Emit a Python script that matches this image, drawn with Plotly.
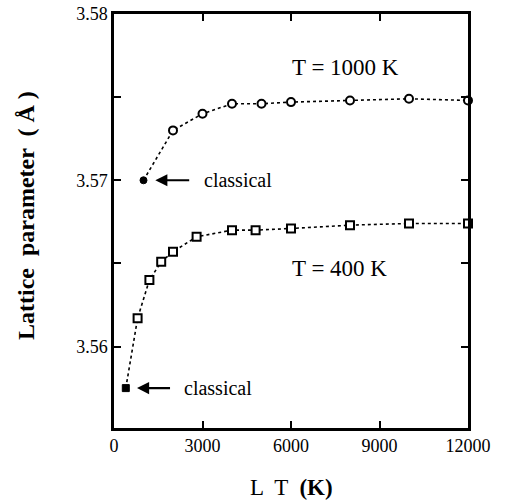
import plotly.graph_objects as go

# Lattice parameter vs. L*T for two temperatures (PIMD convergence)
lt_1000 = [1000, 2000, 3000, 4000, 5000, 6000, 8000, 10000, 12000]
a_1000 = [3.5700, 3.5730, 3.5740, 3.5746, 3.5746, 3.5747, 3.5748, 3.5749, 3.5748]

lt_400 = [400, 800, 1200, 1600, 2000, 2800, 4000, 4800, 6000, 8000, 10000, 12000]
a_400 = [3.5575, 3.5617, 3.5640, 3.5651, 3.5657, 3.5666, 3.5670, 3.5670, 3.5671,
         3.5673, 3.5674, 3.5674]

x_ticks = [0, 3000, 6000, 9000, 12000]
x_tick_text = ["0", "3000", "6000", "9000", "12000"]
y_ticks = [3.555, 3.56, 3.565, 3.57, 3.575, 3.58]
y_tick_text = ["", "3.56", "", "3.57", "", "3.58"]

FONT = "Liberation Serif"

fig = go.Figure()


def add_series(xs, ys, symbol):
    # dotted connecting line with open markers, first (classical) point filled
    fig.add_trace(go.Scatter(
        x=xs, y=ys, mode="lines",
        line=dict(color="black", width=1.6, dash="dot"),
        showlegend=False, hoverinfo="skip"))
    fig.add_trace(go.Scatter(
        x=xs[1:], y=ys[1:], mode="markers",
        marker=dict(symbol=symbol, size=8, color="white",
                    line=dict(color="black", width=2)),
        showlegend=False, cliponaxis=False))
    fig.add_trace(go.Scatter(
        x=xs[:1], y=ys[:1], mode="markers",
        marker=dict(symbol=symbol, size=7, color="black",
                    line=dict(color="black", width=1)),
        showlegend=False, cliponaxis=False))


add_series(lt_1000, a_1000, "circle")
add_series(lt_400, a_400, "square")

annotations = [
    dict(x=7850, y=3.5768, text="T = 1000 K", showarrow=False,
         font=dict(size=23, family=FONT, color="black")),
    dict(x=7650, y=3.5647, text="T = 400 K", showarrow=False,
         font=dict(size=23, family=FONT, color="black")),
    # arrows pointing at the classical points
    dict(x=1400, y=a_1000[0], ax=2600, ay=a_1000[0],
         axref="x", ayref="y", text="", showarrow=True,
         arrowhead=2, arrowsize=1.1, arrowwidth=2.2, arrowcolor="black"),
    dict(x=2980, y=a_1000[0], text="classical", showarrow=False,
         xanchor="left", font=dict(size=20, family=FONT, color="black")),
    dict(x=780, y=a_400[0], ax=1950, ay=a_400[0],
         axref="x", ayref="y", text="", showarrow=True,
         arrowhead=2, arrowsize=1.1, arrowwidth=2.2, arrowcolor="black"),
    dict(x=2300, y=a_400[0], text="classical", showarrow=False,
         xanchor="left", font=dict(size=20, family=FONT, color="black")),
    # axis titles
    dict(x=0.5, y=0, xref="paper", yref="paper", yanchor="middle",
         yshift=-59, text="L  T  <b>(K)</b>", showarrow=False,
         font=dict(size=23, family=FONT, color="black")),
    dict(x=0, y=0.5, xref="paper", yref="paper", xanchor="center",
         yanchor="middle", xshift=-88, yshift=5, textangle=-90,
         text="<b>Lattice  parameter  ( Å )</b>", showarrow=False,
         font=dict(size=24, family=FONT, color="black")),
]

fig.update_layout(
    width=505, height=504,
    margin=dict(l=114, r=37, t=14, b=76),
    paper_bgcolor="white", plot_bgcolor="white",
    font=dict(family=FONT, color="black", size=18),
    annotations=annotations,
    xaxis=dict(
        range=[0, 12000], tickvals=x_ticks, ticktext=x_tick_text,
        ticks="inside", ticklen=7, tickwidth=2, tickcolor="black",
        showline=True, linewidth=2.5, linecolor="black", mirror="allticks",
        showgrid=False, zeroline=False, automargin=False,
        tickfont=dict(size=18, family=FONT),
    ),
    yaxis=dict(
        range=[3.5551, 3.58], tickvals=y_ticks, ticktext=y_tick_text,
        ticks="inside", ticklen=7, tickwidth=2, tickcolor="black",
        showline=True, linewidth=2.5, linecolor="black", mirror="allticks",
        showgrid=False, zeroline=False, automargin=False,
        tickfont=dict(size=18, family=FONT),
    ),
)

fig.write_html("out.html")
